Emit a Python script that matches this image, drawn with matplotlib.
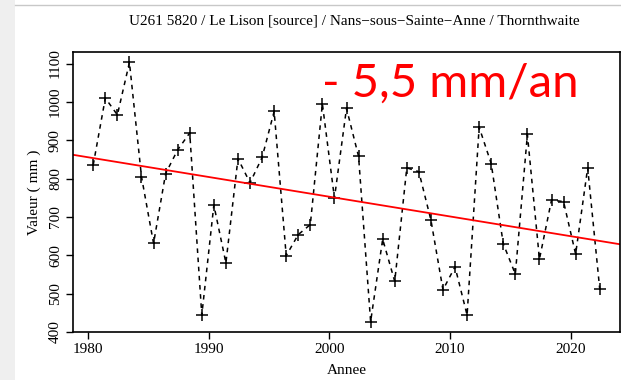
import matplotlib.pyplot as plt
from matplotlib.patches import Rectangle
from matplotlib.lines import Line2D
import numpy as np

# Annual values (mm), 1980-2022
years = np.arange(1980, 2023)
valeurs = [836, 1010, 966, 1103, 805, 631, 813, 875, 919, 444,
           731, 580, 852, 789, 855, 975, 599, 654, 680, 995,
           749, 983, 858, 427, 642, 532, 828, 818, 692, 510,
           570, 444, 934, 839, 630, 551, 915, 590, 744, 740,
           603, 828, 512]
xticks = [1980, 1990, 2000, 2010, 2020]
yticks = [400, 500, 600, 700, 800, 900, 1000, 1100]
titre = "U261 5820 / Le Lison [source] / Nans\u2212sous\u2212Sainte\u2212Anne / Thornthwaite"
tendance = "- 5,5 mm/an"

x = years + 0.42   # points sit a bit after the year tick
y = np.array(valeurs, dtype=float)

fig = plt.figure(figsize=(6.21, 3.80), dpi=100)
ax = fig.add_axes([73/621, 1-332/380, 547/621, 280/380])

# R-like 4% padding
xr = x.max() - x.min()
yr = y.max() - y.min()
ax.set_xlim(x.min() - 0.04*xr, x.max() + 0.04*xr)
ax.set_ylim(y.min() - 0.04*yr, y.max() + 0.04*yr)

ax.plot(x, y, color='k', ls=(0, (3, 3)), lw=1.1, marker='+', ms=8, mew=1.1)

# linear trend over the full width
a, b = np.polyfit(x, y, 1)
ax.axline((x[0], a*x[0] + b), slope=a, color='red', lw=1.3)

serif = 'Liberation Serif'
ax.set_xticks(xticks)
ax.set_yticks(yticks)
ax.set_xticklabels([str(t) for t in xticks], fontfamily=serif, fontsize=11)
ax.set_yticklabels([str(t) for t in yticks], fontfamily=serif, fontsize=11,
                   rotation=90, va='center')
ax.tick_params(direction='out', length=5, width=1, pad=3)
for s in ax.spines.values():
    s.set_linewidth(1.2)

ax.set_xlabel('Annee', fontfamily=serif, fontsize=11, labelpad=6)
ax.set_ylabel('Valeur ( mm )', fontfamily=serif, fontsize=11, labelpad=6)
ax.set_title(titre, fontfamily=serif, fontsize=11, pad=20, x=0.515)

ax.text(0.455, 0.84, tendance, transform=ax.transAxes, color='red',
        fontfamily='Lato', fontsize=34, va='baseline', ha='left')

# screenshot frame: grey strip at left, grey line at top
fig.add_artist(Rectangle((0, 0), 15/621, 1, transform=fig.transFigure,
                         color='#efefef', lw=0))
fig.add_artist(Line2D([15/621, 1], [1-5/380, 1-5/380], transform=fig.transFigure,
                      color='#c8c8c8', lw=1))

fig.savefig('out.png', dpi=100)
